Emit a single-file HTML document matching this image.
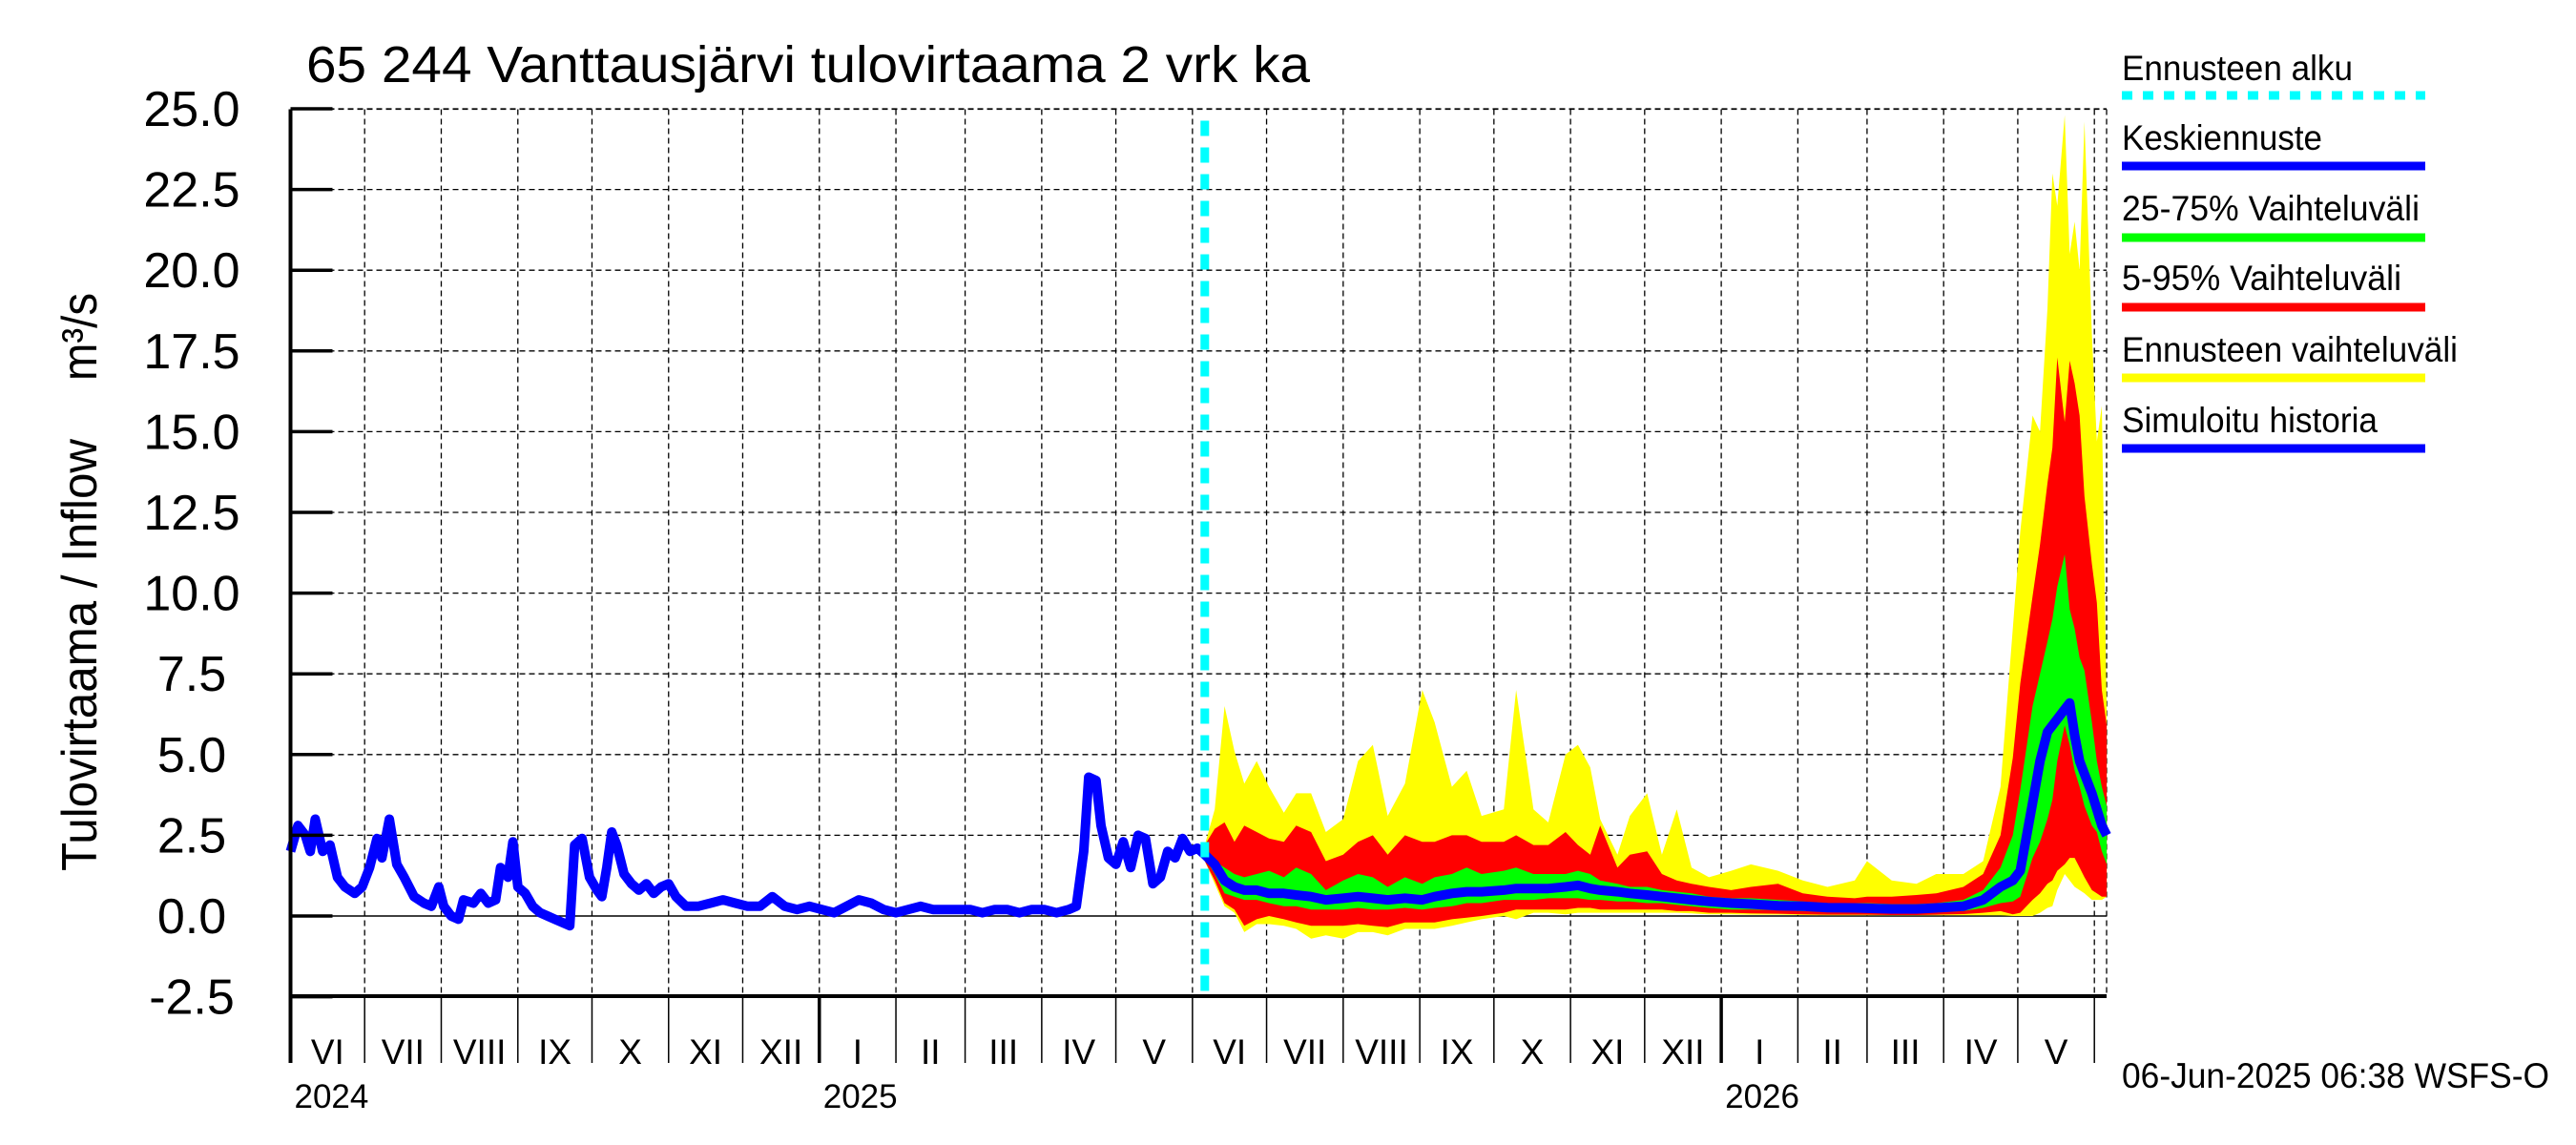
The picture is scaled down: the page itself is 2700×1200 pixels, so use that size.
<!DOCTYPE html>
<html><head><meta charset="utf-8"><style>
html,body{margin:0;padding:0;background:#fff}
svg{display:block;font-family:"Liberation Sans",Arial,sans-serif}
</style></head><body>
<svg id="chart" width="2700" height="1200" viewBox="0 0 2700 1200" xmlns="http://www.w3.org/2000/svg">
<rect x="0" y="0" width="2700" height="1200" fill="#fff"/>
<text x="321" y="86" font-size="54" textLength="1052" lengthAdjust="spacingAndGlyphs">65 244 Vanttausjärvi tulovirtaama 2 vrk ka</text>
<text transform="translate(101,913) rotate(-90)" font-size="52" textLength="453" lengthAdjust="spacingAndGlyphs">Tulovirtaama / Inflow</text>
<text transform="translate(101,399) rotate(-90)" font-size="52" textLength="92" lengthAdjust="spacingAndGlyphs">m³/s</text>
<g id="grid"></g>
<g id="bands"></g>
<g id="lines"></g>
<g id="axes"></g>
<g>
<text x="2224" y="84" font-size="37" textLength="242" lengthAdjust="spacingAndGlyphs">Ennusteen alku</text>
<line x1="2224" y1="100" x2="2542" y2="100" stroke="#00ffff" stroke-width="9" stroke-dasharray="11 11"/>
<text x="2224" y="157" font-size="37" textLength="210" lengthAdjust="spacingAndGlyphs">Keskiennuste</text>
<line x1="2224" y1="174" x2="2542" y2="174" stroke="#0000ff" stroke-width="9"/>
<text x="2224" y="231" font-size="37" textLength="312" lengthAdjust="spacingAndGlyphs">25-75% Vaihteluväli</text>
<line x1="2224" y1="249" x2="2542" y2="249" stroke="#00ff00" stroke-width="9"/>
<text x="2224" y="304" font-size="37" textLength="293" lengthAdjust="spacingAndGlyphs">5-95% Vaihteluväli</text>
<line x1="2224" y1="322" x2="2542" y2="322" stroke="#ff0000" stroke-width="9"/>
<text x="2224" y="379" font-size="37" textLength="352" lengthAdjust="spacingAndGlyphs">Ennusteen vaihteluväli</text>
<line x1="2224" y1="396" x2="2542" y2="396" stroke="#ffff00" stroke-width="9"/>
<text x="2224" y="453" font-size="37" textLength="268" lengthAdjust="spacingAndGlyphs">Simuloitu historia</text>
<line x1="2224" y1="470" x2="2542" y2="470" stroke="#0000ff" stroke-width="9"/>
</g>
<text x="2224" y="1140" font-size="37" textLength="448" lengthAdjust="spacingAndGlyphs">06-Jun-2025 06:38 WSFS-O</text>
</svg>
<script>
// ---- data (days since 2024-06-01) ----
const histDays = [0,3,6,8,10,13,16,19,22,26,29,32,35,37,40,43,46,50,54,57,60,62,65,68,70,74,77,80,83,85,88,90,92,95,98,101,104,107,110,113,115,118,121,124,126,128,130,132,135,138,141,144,147,150,153,156,160,165,170,175,180,185,190,195,200,205,210,215,220,225,230,235,240,245,250,255,260,265,270,275,280,285,290,295,300,305,310,315,318,321,323,326,328,331,334,337,340,343,346,349,352,355,358,361,364,367,370];
const histVals = [2.0,2.8,2.5,2.0,3.0,2.0,2.2,1.2,0.9,0.7,0.9,1.5,2.4,1.8,3.0,1.6,1.2,0.6,0.4,0.3,0.9,0.3,0.0,-0.1,0.5,0.4,0.7,0.4,0.5,1.5,1.2,2.3,0.9,0.7,0.3,0.1,0.0,-0.1,-0.2,-0.3,2.2,2.4,1.2,0.8,0.6,1.5,2.6,2.2,1.3,1.0,0.8,1.0,0.7,0.9,1.0,0.6,0.3,0.3,0.4,0.5,0.4,0.3,0.3,0.6,0.3,0.2,0.3,0.2,0.1,0.3,0.5,0.4,0.2,0.1,0.2,0.3,0.2,0.2,0.2,0.2,0.1,0.2,0.2,0.1,0.2,0.2,0.1,0.2,0.3,2.0,4.3,4.2,2.8,1.8,1.6,2.3,1.5,2.5,2.4,1.0,1.2,2.0,1.8,2.4,2.0,2.1,1.9];
const fcDays = [370,374,378,382,386,391,396,402,407,413,419,426,432,438,444,451,458,463,470,476,482,491,496,503,509,516,521,526,530,537,542,549,555,561,567,574,583,591,602,612,622,633,638,648,658,666,677,685,692,697,700,705,708,711,713,715,718,720,722,724,726,729,731,733,735];
const fcMax = [2.2,3.3,6.5,5.1,4.1,4.8,4.0,3.2,3.8,3.8,2.6,3.0,4.8,5.3,3.1,4.1,7.0,6.0,4.0,4.5,3.1,3.3,7.0,3.3,2.9,5.0,5.3,4.6,3.0,1.9,3.1,3.8,1.9,3.3,1.5,1.2,1.4,1.6,1.4,1.1,0.9,1.1,1.7,1.1,1.0,1.3,1.3,1.7,4.0,8.9,11.9,15.5,15.0,18.8,23.0,22.0,24.8,20.5,21.5,20.0,24.6,18.0,14.7,15.8,6.4];
const fcP95 = [2.2,2.7,2.9,2.3,2.8,2.6,2.4,2.3,2.8,2.6,1.7,1.9,2.3,2.5,1.9,2.5,2.3,2.3,2.5,2.5,2.3,2.3,2.5,2.2,2.2,2.6,2.2,1.9,2.8,1.5,1.9,2.0,1.3,1.1,1.0,0.9,0.8,0.9,1.0,0.7,0.6,0.55,0.6,0.6,0.65,0.7,0.9,1.3,2.5,4.9,7.2,9.9,11.5,13.4,14.5,17.3,15.3,17.2,16.5,15.5,13.0,10.9,9.7,7.0,5.9];
const fcP75 = [2.0,1.7,1.5,1.3,1.2,1.3,1.4,1.2,1.5,1.3,0.8,1.1,1.3,1.2,0.9,1.2,1.0,1.2,1.3,1.5,1.3,1.4,1.5,1.3,1.3,1.3,1.4,1.3,1.1,1.0,0.9,0.9,0.8,0.75,0.7,0.6,0.55,0.55,0.5,0.45,0.4,0.4,0.4,0.37,0.37,0.4,0.5,0.8,1.5,2.5,3.9,6.5,7.5,8.5,9.2,10.2,11.2,9.5,8.9,8.0,7.6,6.0,4.8,4.0,3.4];
const fcMed = [1.9,1.6,1.1,0.9,0.8,0.8,0.7,0.7,0.65,0.6,0.5,0.55,0.6,0.55,0.5,0.55,0.5,0.6,0.7,0.75,0.75,0.8,0.85,0.85,0.85,0.9,0.95,0.85,0.8,0.75,0.7,0.65,0.6,0.55,0.5,0.45,0.4,0.37,0.32,0.3,0.26,0.25,0.24,0.22,0.22,0.25,0.3,0.5,0.9,1.1,1.4,3.5,4.8,5.7,5.9,6.1,6.4,6.6,5.6,4.8,4.4,3.8,3.3,2.8,2.5];
const fcP25 = [1.8,1.3,0.7,0.6,0.5,0.5,0.4,0.3,0.3,0.2,0.2,0.2,0.25,0.2,0.2,0.25,0.2,0.25,0.3,0.4,0.4,0.5,0.5,0.5,0.55,0.55,0.55,0.5,0.5,0.45,0.45,0.4,0.4,0.35,0.3,0.25,0.2,0.2,0.18,0.15,0.13,0.12,0.12,0.1,0.1,0.12,0.15,0.25,0.4,0.45,0.6,1.8,2.3,3.0,3.6,4.8,5.9,5.3,4.5,4.0,3.4,2.8,2.6,2.0,1.6];
const fcP5 = [1.7,1.1,0.4,0.2,-0.3,-0.1,0.0,-0.1,-0.2,-0.3,-0.3,-0.3,-0.25,-0.3,-0.35,-0.2,-0.2,-0.2,-0.1,-0.05,0.0,0.1,0.2,0.2,0.2,0.2,0.25,0.25,0.2,0.2,0.2,0.2,0.2,0.15,0.15,0.1,0.1,0.08,0.07,0.05,0.04,0.04,0.04,0.03,0.03,0.04,0.06,0.1,0.15,0.05,0.1,0.5,0.7,1.0,1.1,1.4,1.6,1.8,1.8,1.5,1.2,0.8,0.7,0.6,0.6];
const fcMin = [1.7,1.0,0.3,0.1,-0.5,-0.25,-0.25,-0.3,-0.4,-0.7,-0.6,-0.7,-0.5,-0.5,-0.6,-0.4,-0.4,-0.4,-0.3,-0.2,-0.1,0.0,-0.1,0.1,0.1,0.05,0.1,0.1,0.1,0.1,0.1,0.1,0.1,0.1,0.08,0.05,0.05,0.04,0.04,0.03,0.02,0.02,0.02,0.02,0.02,0.02,0.02,0.02,0.02,0.0,0.0,0.0,0.1,0.25,0.3,0.8,1.3,1.1,0.9,0.8,0.7,0.5,0.5,0.5,0.6];
const yTicks = [-2.5,0,2.5,5,7.5,10,12.5,15,17.5,20,22.5,25];
const yTickLabels = ["-2.5","0.0","2.5","5.0","7.5","10.0","12.5","15.0","17.5","20.0","22.5","25.0"];
const monthNames = ["I","II","III","IV","V","VI","VII","VIII","IX","X","XI","XII"];
const forecastStartDay = 370;

// ---- axes ----
const X0=304.5, PXD=2.59, XR=2208, Y0=960, PXV=33.84, YTOP=114.5, YBOT=1044;
function xs(d){return X0+d*PXD;}
function ys(v){return Y0-v*PXV;}
const NS="http://www.w3.org/2000/svg";
function mk(parent,tag,attrs){const e=document.createElementNS(NS,tag);for(const k in attrs)e.setAttribute(k,attrs[k]);parent.appendChild(e);return e;}
const grid=document.getElementById('grid'),bands=document.getElementById('bands'),lines=document.getElementById('lines'),axes=document.getElementById('axes');

yTicks.forEach((v,i)=>{
  if(v!==0&&v!==-2.5){
    const g=mk(grid,'line',{x1:X0,x2:XR,y1:ys(v),y2:ys(v),stroke:'#000','stroke-width':1.3,'stroke-dasharray':'6 4'});
    
    
  }
  const t=mk(axes,'line',{x1:X0,x2:X0+44,y1:ys(v),y2:ys(v),stroke:'#000','stroke-width':3.5});
  
  
  const l=mk(axes,'text',{x:201,y:ys(v)+18,'font-size':52,'text-anchor':'middle'});
  l.textContent=yTickLabels[i];
  
  
});
const zl=mk(grid,'line',{x1:X0,x2:XR,y1:ys(0),y2:ys(0),stroke:'#000','stroke-width':1.5});



const base=Date.UTC(2024,5,1);
function dayOf(y,m){return Math.round((Date.UTC(y,m,1)-base)/86400000);}
for(let k=0;k<25;k++){
  const y=2024+Math.floor((5+k)/12), m=(5+k)%12;
  const d=dayOf(y,m), dn=dayOf(m===11?y+1:y,(m+1)%12);
  const x=xs(d);
  if(k>0){
    const g=mk(grid,'line',{x1:x,x2:x,y1:YTOP,y2:YBOT,stroke:'#000','stroke-width':1.3,'stroke-dasharray':'6 4'});
    
    
  }
  const tk=mk(axes,'line',{x1:x,x2:x,y1:YBOT,y2:1114,stroke:'#000','stroke-width':m===0?3.5:1.5});
  
  
  if(k===24) break;
  const xc=(x+xs(dn))/2;
  const lb=mk(axes,'text',{x:xc,y:1115,'font-size':37,'text-anchor':'middle'});
  lb.textContent=monthNames[m];
  
  
}
[[2024,0],[2025,dayOf(2025,0)],[2026,dayOf(2026,0)]].forEach(([yr,d])=>{
  const t=mk(axes,'text',{x:xs(d)+4,y:1161,'font-size':35});
  t.textContent=String(yr);
  
  
});
const rg=mk(grid,'line',{x1:XR,x2:XR,y1:YTOP,y2:YBOT,stroke:'#000','stroke-width':1.3,'stroke-dasharray':'6 4'});


const tg=mk(grid,'line',{x1:X0,x2:XR,y1:YTOP,y2:YTOP,stroke:'#000','stroke-width':1.3,'stroke-dasharray':'6 4'});


const la=mk(axes,'line',{x1:X0,x2:X0,y1:YTOP,y2:1114,stroke:'#000','stroke-width':4});


const ba=mk(axes,'line',{x1:X0,x2:XR,y1:YBOT,y2:YBOT,stroke:'#000','stroke-width':4});



function band(hi,lo,color,name){
  let p=fcDays.map((d,i)=>xs(d).toFixed(1)+','+ys(hi[i]).toFixed(1));
  for(let i=fcDays.length-1;i>=0;i--)p.push(xs(fcDays[i]).toFixed(1)+','+ys(lo[i]).toFixed(1));
  const e=mk(bands,'polygon',{points:p.join(' '),fill:color});
  
  
}
band(fcMax,fcMin,'#ffff00','band-min-max');
band(fcP95,fcP5,'#ff0000','band-5-95');
band(fcP75,fcP25,'#00ff00','band-25-75');

function line(ds,vs,name){
  const e=mk(lines,'polyline',{points:ds.map((d,i)=>xs(d).toFixed(1)+','+ys(vs[i]).toFixed(1)).join(' '),fill:'none',stroke:'#0000ff','stroke-width':10,'stroke-linejoin':'round'});
  
  
}
line(histDays,histVals,'simulated-history-line');
line(fcDays,fcMed,'median-forecast-line');

const cx=xs(forecastStartDay);
const cy=mk(lines,'line',{x1:cx,x2:cx,y1:YTOP+12,y2:YBOT,stroke:'#00ffff','stroke-width':9,'stroke-dasharray':'16 12'});


</script>
</body></html>
